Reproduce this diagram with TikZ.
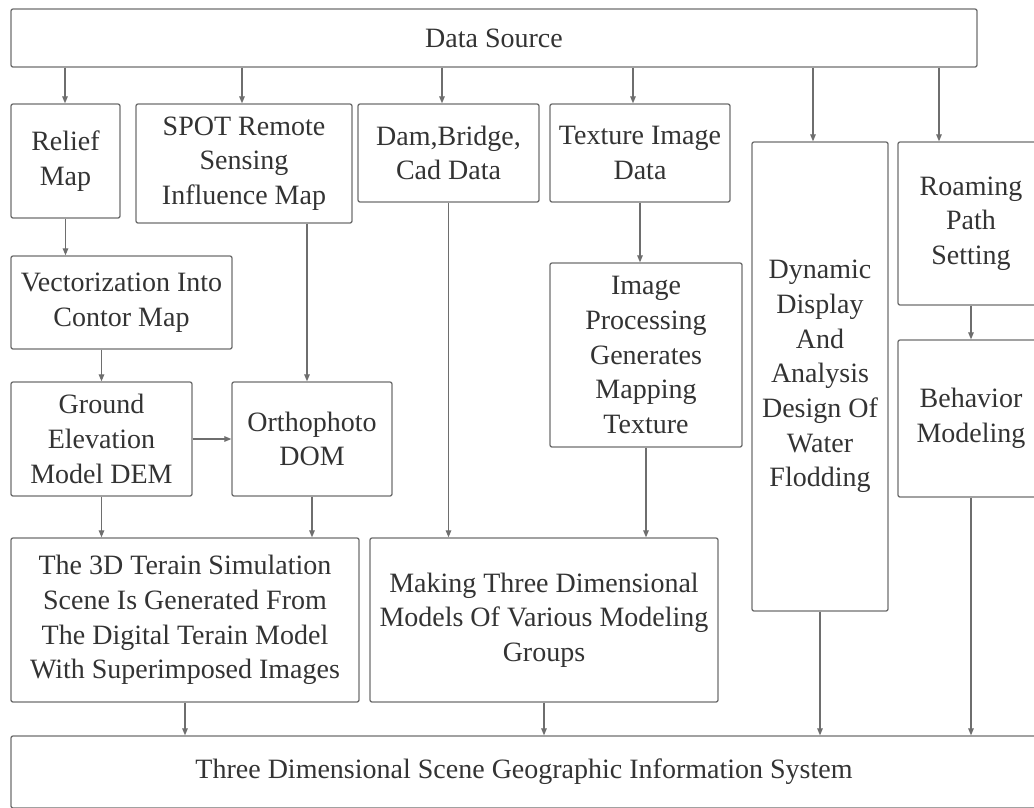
\documentclass[tikz,border=0pt]{standalone}
\usepackage{fontspec}
\setmainfont{Liberation Serif}
\usetikzlibrary{arrows.meta}
\definecolor{linec}{HTML}{6E6E6E}
\definecolor{textc}{HTML}{333333}
\begin{document}
\begin{tikzpicture}[x=1pt,y=-1pt,
  box/.style={draw=linec, line width=1.3pt, rounded corners=2pt, align=center,
    inner sep=0pt, text=textc,
    font=\fontsize{28pt}{34.7pt}\selectfont},
  arr/.style={draw=linec, line width=1.2pt,
    -{Triangle[length=7pt,width=5.5pt]}}]
\useasboundingbox (0,0) rectangle (1034,807);

% top and bottom bars
\node[box, minimum width=966pt, minimum height=58pt] (src) at (494,38) {Data Source};
\node[box, minimum width=1026pt, minimum height=72pt] (gis) at (524,772)
  {Three Dimensional Scene Geographic Information System};

% first row of sources
\node[box, minimum width=109pt, minimum height=114pt] (relief) at (65.5,161) {Relief\\Map};
\node[box, minimum width=216pt, minimum height=119pt] (spot) at (244,163.5) {SPOT Remote\\Sensing\\Influence Map};
\node[box, minimum width=181pt, minimum height=98pt] (dam) at (448.5,153) {Dam,Bridge,\\Cad Data};
\node[box, minimum width=180pt, minimum height=98pt] (tex) at (640,153) {Texture Image\\Data};
\node[box, minimum width=136pt, minimum height=469pt] (dyn) at (820,376.5)
  {Dynamic\\Display\\And\\Analysis\\Design Of\\Water\\Flodding};
\node[box, minimum width=146pt, minimum height=163pt] (roam) at (971,223.5) {Roaming\\Path\\Setting};

% processing steps
\node[box, minimum width=221pt, minimum height=93pt] (vec) at (121.5,302.5) {Vectorization Into\\Contor Map};
\node[box, minimum width=192pt, minimum height=184pt] (img) at (646,355)
  {Image\\Processing\\Generates\\Mapping\\Texture};
\node[box, minimum width=146pt, minimum height=157pt] (beh) at (971,418.5) {Behavior\\Modeling};
\node[box, minimum width=181pt, minimum height=114pt] (ground) at (101.5,439) {Ground\\Elevation\\Model DEM};
\node[box, minimum width=160pt, minimum height=114pt] (ortho) at (312,439) {Orthophoto\\DOM};

% scene models
\node[box, minimum width=348pt, minimum height=164pt] (terr) at (185,620)
  {The 3D Terain Simulation\\Scene Is Generated From\\The Digital Terain Model\\With Superimposed Images};
\node[box, minimum width=348pt, minimum height=164pt] (make) at (544,620)
  {Making Three Dimensional\\Models Of Various Modeling\\Groups};

% connectors from the data source
\coordinate (tRelief) at ([xshift=-0.5pt]relief.north);
\coordinate (tSpot) at ([xshift=-2pt]spot.north);
\coordinate (tDam) at ([xshift=-6.5pt]dam.north);
\coordinate (tTex) at ([xshift=-7pt]tex.north);
\coordinate (tDyn) at ([xshift=-7pt]dyn.north);
\coordinate (tRoam) at ([xshift=-32pt]roam.north);
\foreach \t in {tRelief,tSpot,tDam,tTex,tDyn,tRoam}
  \draw[arr] (src.south -| \t) -- (\t);

% terrain branch
\draw[arr] (relief.south) -- (relief.south |- vec.north);
\draw[arr] (ground.north |- vec.south) -- (ground.north);
\coordinate (tOrtho) at ([xshift=-5pt]ortho.north);
\draw[arr] (spot.south -| tOrtho) -- (tOrtho);
\draw[arr] (ground.east) -- (ortho.west);
\draw[arr] (ground.south) -- (ground.south |- terr.north);
\draw[arr] (ortho.south) -- (ortho.south |- terr.north);

% model branch
\draw[arr] (dam.south) -- (dam.south |- make.north);
\draw[arr] (tex.south) -- (tex.south |- img.north);
\draw[arr] (img.south) -- (img.south |- make.north);
\draw[arr] (roam.south) -- (beh.north);

% into the information system
\draw[arr] (terr.south) -- (terr.south |- gis.north);
\draw[arr] (make.south) -- (make.south |- gis.north);
\draw[arr] (dyn.south) -- (dyn.south |- gis.north);
\draw[arr] (beh.south) -- (beh.south |- gis.north);
\end{tikzpicture}
\end{document}
